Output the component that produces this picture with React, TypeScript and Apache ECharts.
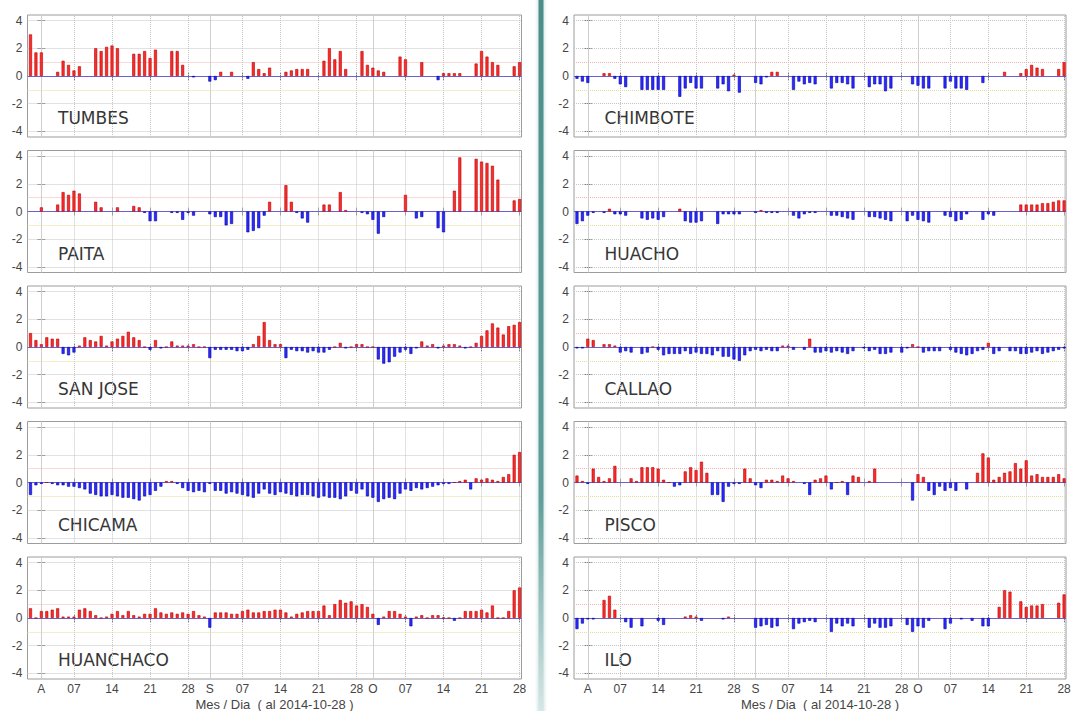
import React, { useEffect, useRef } from 'react';
import * as echarts from 'echarts';

// Daily anomalies (°C) from 30 Jul to 28 Oct 2014.
// Layout of each array: 30 Jul – 3 Aug, then 12 weeks Mon–Sun, then 27–28 Oct.
const FIRST_DAY = -2; // day index of 30 Jul, counted from 1 Aug 2014

const tumbes = [
  3.0, 1.7, 1.7, null, null,
  0.3, 1.1, 0.8, 0.4, 0.7, null, null,
  2.0, 1.8, 2.1, 2.2, 2.0, null, null,
  1.6, 1.6, 1.8, 1.3, 1.9, null, null,
  1.8, 1.8, 0.8, null, -0.1, null, null,
  -0.4, -0.3, 0.3, null, 0.3, null, null,
  -0.2, 1.0, 0.5, 0.2, 0.6, null, null,
  0.3, 0.4, 0.5, 0.5, 0.5, null, null,
  1.1, 2.0, 1.2, 1.8, 0.5, null, null,
  1.8, 0.8, 0.6, 0.4, 0.3, null, null,
  1.4, 1.2, null, null, 1.0, null, null,
  -0.3, 0.2, 0.2, 0.2, 0.2, null, null,
  0.9, 1.8, 1.4, 1.0, 0.8, null, null,
  0.7, 1.0,
];

const paita = [
  null, null, 0.3, null, null,
  0.5, 1.4, 1.2, 1.5, 1.3, null, null,
  0.7, 0.3, null, null, 0.3, null, null,
  0.4, 0.3, -0.1, -0.7, -0.7, null, null,
  -0.1, -0.1, -0.6, -0.1, -0.3, null, null,
  -0.2, -0.4, -0.4, -1.0, -0.9, null, null,
  -1.5, -1.4, -1.2, -0.3, 0.7, null, null,
  1.9, 0.7, -0.1, -0.5, -0.8, null, null,
  0.5, 0.5, null, 1.4, 0.1, null, null,
  -0.1, -0.2, -0.6, -1.6, -0.4, null, null,
  null, 1.2, null, -0.5, -0.4, null, null,
  -1.2, -1.5, null, 1.5, 3.9, null, null,
  3.8, 3.6, 3.5, 3.3, 2.3, null, null,
  0.8, 0.9,
];

const sanJose = [
  1.0, 0.5, 0.2, 0.7, 0.6,
  0.6, -0.5, -0.6, -0.4, 0.1, 0.7, 0.5,
  0.4, 0.8, 0.1, 0.4, 0.6, 0.8, 1.1,
  0.7, 0.5, 0.0, -0.2, 0.5, -0.1, 0.0,
  0.4, 0.1, 0.1, 0.1, 0.2, 0.0, 0.0,
  -0.8, -0.2, -0.2, -0.2, -0.2, -0.3, -0.3,
  -0.2, 0.2, 0.8, 1.8, 0.5, 0.2, 0.2,
  -0.8, -0.2, -0.3, -0.3, -0.4, -0.3, -0.4,
  -0.4, -0.2, 0.0, 0.3, -0.1, 0.0, 0.2,
  0.2, 0.0, 0.0, -0.9, -1.2, -1.1, -0.7,
  -0.4, -0.2, -0.5, -0.1, 0.4, 0.1, 0.2,
  -0.1, 0.1, 0.2, 0.2, 0.1, -0.1, 0.0,
  0.3, 0.8, 1.2, 1.7, 1.4, 0.9, 1.5,
  1.6, 1.8,
];

const chicama = [
  -0.9, -0.2, -0.1, 0.0, -0.1,
  -0.2, -0.2, -0.3, -0.3, -0.4, -0.5, -0.8,
  -0.9, -1.0, -1.0, -0.9, -1.0, -1.1, -1.1,
  -1.2, -1.3, -1.0, -0.9, -0.6, -0.3, 0.1,
  0.1, -0.1, -0.4, -0.6, -0.7, -0.6, -0.7,
  -0.1, -0.6, -0.6, -0.8, -0.7, -0.8, -0.9,
  -1.0, -1.1, -0.8, -0.5, -0.8, -0.9, -0.7,
  -0.8, -0.9, -1.0, -0.9, -0.9, -1.0, -1.1,
  -1.0, -1.1, -1.1, -1.2, -1.0, -0.6, -0.8,
  -0.5, -1.0, -1.1, -1.4, -1.2, -1.1, -1.2,
  -0.8, -0.5, -0.6, -0.4, -0.5, -0.4, -0.3,
  -0.2, -0.1, -0.1, 0.0, 0.1, 0.2, -0.5,
  0.3, 0.2, 0.3, 0.2, 0.1, 0.4, 0.6,
  2.0, 2.2,
];

const huanchaco = [
  0.7, 0.0, 0.5, 0.5, 0.6,
  0.7, 0.1, 0.1, 0.1, 0.6, 0.7, 0.5,
  0.2, 0.0, 0.1, 0.3, 0.5, 0.2, 0.5,
  0.2, 0.1, 0.3, 0.3, 0.7, 0.4, 0.3,
  0.4, 0.3, 0.4, 0.3, 0.5, 0.2, 0.1,
  -0.7, 0.4, 0.4, 0.4, 0.3, 0.3, 0.5,
  0.6, 0.4, 0.4, 0.5, 0.5, 0.6, 0.6,
  0.4, 0.1, 0.3, 0.4, 0.5, 0.5, 0.5,
  0.9, 0.2, 1.0, 1.3, 1.1, 1.2, 0.9,
  1.0, 0.8, 0.3, -0.5, 0.1, 0.5, 0.5,
  0.3, 0.1, -0.6, 0.1, 0.2, 0.0, 0.2,
  0.2, 0.0, 0.0, -0.2, 0.0, 0.5, 0.5,
  0.5, 0.6, 0.4, 0.9, 0.0, 0.0, 0.5,
  2.0, 2.2,
];

const chimbote = [
  -0.2, -0.4, -0.5, null, null,
  0.2, 0.2, -0.2, -0.6, -0.8, null, null,
  -1.0, -1.0, -1.0, -1.0, -1.0, null, null,
  -1.5, -0.9, -0.5, -0.9, -0.9, null, null,
  -0.9, -0.6, -1.1, 0.1, -1.2, null, null,
  -0.5, -0.6, -0.1, 0.3, 0.3, null, null,
  -1.0, -0.4, -0.6, -0.5, -0.6, null, null,
  -0.9, -0.5, -0.5, -0.6, -0.9, null, null,
  -0.8, -0.6, -0.6, -1.1, -0.9, null, null,
  null, -0.6, -0.7, -0.9, -0.9, null, null,
  -0.9, -0.4, -0.9, -0.9, -1.0, null, null,
  -0.5, null, null, null, 0.3, null, null,
  0.2, 0.5, 0.8, 0.6, 0.5, null, null,
  0.5, 1.0,
];

const huacho = [
  -0.9, -0.7, -0.3, -0.1, null,
  -0.1, 0.2, -0.2, -0.2, -0.3, null, null,
  -0.5, -0.6, -0.5, -0.6, -0.4, null, null,
  0.2, -0.7, -0.8, -0.8, -0.7, null, null,
  -0.9, -0.2, -0.2, -0.2, -0.2, null, null,
  -0.1, 0.1, -0.1, -0.1, -0.1, null, null,
  -0.3, -0.5, -0.2, -0.1, -0.1, null, null,
  -0.3, -0.3, -0.4, -0.5, -0.6, null, null,
  -0.4, -0.4, -0.5, -0.6, -0.7, null, null,
  -0.7, -0.3, -0.6, -0.7, -0.8, null, null,
  -0.3, -0.4, -0.7, -0.6, -0.2, null, null,
  -0.6, -0.2, -0.3, null, null, null, null,
  0.5, 0.5, 0.5, 0.5, 0.6, 0.6, 0.7,
  0.8, 0.8,
];

const callao = [
  -0.1, -0.1, 0.6, 0.5, null,
  0.2, 0.2, 0.1, -0.4, -0.3, -0.4, null,
  -0.5, -0.4, 0.0, -0.2, -0.6, -0.5, -0.5,
  -0.5, -0.3, -0.5, -0.4, -0.5, -0.5, -0.6,
  -0.3, -0.7, -0.7, -0.9, -1.0, -0.6, -0.3,
  -0.2, -0.3, -0.2, -0.3, -0.3, 0.1, 0.1,
  -0.2, null, -0.2, 0.6, -0.4, -0.4, -0.3,
  -0.4, -0.3, -0.4, -0.5, -0.3, null, -0.1,
  -0.3, -0.2, -0.5, -0.5, -0.4, null, -0.4,
  -0.1, 0.2, 0.0, -0.4, -0.3, -0.3, -0.3,
  null, -0.2, -0.4, -0.5, -0.6, -0.5, -0.3,
  -0.2, 0.3, -0.5, -0.3, null, -0.3, -0.3,
  -0.5, -0.5, -0.4, -0.3, -0.5, -0.4, -0.3,
  -0.2, -0.1,
];

const pisco = [
  0.5, 0.1, -0.1, 1.0, 0.4,
  0.1, 0.3, 1.2, null, null, 0.3, 0.1,
  1.1, 1.1, 1.1, 1.0, 0.2, 0.0, -0.3,
  -0.2, 0.8, 1.1, 0.9, 1.5, 0.7, -0.9,
  -0.9, -1.4, -0.3, -0.1, -0.1, 1.0, 0.3,
  -0.2, -0.4, 0.2, 0.2, 0.1, 0.5, 0.3,
  0.1, null, -0.1, -0.9, 0.2, 0.3, 0.5,
  -0.5, 0.0, 0.1, -0.9, 0.5, 0.4, null,
  0.1, 1.0, null, null, null, null, null,
  null, -1.3, 0.6, 0.4, -0.6, -0.9, -0.3,
  -0.6, -0.4, -0.6, null, -0.5, null, 0.7,
  2.1, 1.8, 0.2, 0.4, 0.7, 0.8, 1.4,
  1.0, 1.6, 0.5, 0.6, 0.4, 0.4, 0.4,
  0.6, 0.3,
];

const ilo = [
  -0.8, -0.4, -0.1, -0.1, null,
  1.3, 1.6, 0.6, null, -0.3, -0.7, null,
  -0.6, null, null, -0.2, -0.5, null, null,
  null, 0.1, 0.2, 0.1, -0.2, null, null,
  null, -0.1, 0.1, null, null, null, null,
  -0.7, -0.6, -0.5, -0.7, -0.6, null, null,
  -0.8, -0.4, -0.3, -0.2, -0.3, null, null,
  -1.0, -0.4, -0.6, -0.4, -0.6, null, null,
  -0.7, -0.4, -0.7, -0.7, -0.6, null, null,
  -0.5, -1.0, -0.6, -0.7, -0.2, null, null,
  -0.8, -0.4, null, -0.1, null, -0.2, null,
  -0.6, -0.6, null, 0.8, 2.0, 1.9, null,
  1.2, 0.8, 0.9, 0.9, 1.0, null, null,
  1.1, 1.7,
];

const leftStations = [
  { name: 'TUMBES', values: tumbes },
  { name: 'PAITA', values: paita },
  { name: 'SAN JOSE', values: sanJose },
  { name: 'CHICAMA', values: chicama },
  { name: 'HUANCHACO', values: huanchaco },
];
const rightStations = [
  { name: 'CHIMBOTE', values: chimbote },
  { name: 'HUACHO', values: huacho },
  { name: 'CALLAO', values: callao },
  { name: 'PISCO', values: pisco },
  { name: 'ILO', values: ilo },
];

// x ticks: day index (from 1 Aug 2014) and its label
const tickDays = [0, 6, 13, 20, 27, 31, 37, 44, 51, 58, 61, 67, 74, 81, 88];
const tickLabels = ['A', '07', '14', '21', '28', 'S', '07', '14', '21', '28', 'O', '07', '14', '21', '28'];
const monthStarts = [0, 31, 61];
const yTicks = [-4, -2, 0, 2, 4];
const xTitle = 'Mes / Dia  ( al 2014-10-28 )';

const X_MIN = -2.55;
const X_MAX = 88.35;
const Y_LIM = 4.4;
const ROW_TOP = 15;
const ROW_STEP = 135.5;
const ROW_H = 122;
const COLS = [
  { left: 27.5, width: 494 },
  { left: 574, width: 492 },
];

const RED = '#ff2b2b';
const RED_EDGE = '#b30000';
const BLUE = '#2b2bff';
const BLUE_EDGE = '#0000a6';
const SANS = '"Liberation Sans", Arial, sans-serif';

function buildOption() {
  const grid: any[] = [];
  const xAxis: any[] = [];
  const yAxis: any[] = [];
  const series: any[] = [];
  const graphic: any[] = [];

  const columns = [leftStations, rightStations];
  columns.forEach((stations, c) => {
    const col = COLS[c];
    stations.forEach((st, r) => {
      const gi = grid.length;
      const top = ROW_TOP + ROW_STEP * r;
      const isBottom = r === stations.length - 1;
      grid.push({
        left: col.left,
        top,
        width: col.width,
        height: ROW_H,
        show: true,
        borderColor: '#9c9c9c',
        borderWidth: 1,
        backgroundColor: '#ffffff',
      });
      const tickStyle = { color: '#7a7a7a', width: 1 };
      xAxis.push({
        gridIndex: gi,
        type: 'value',
        min: X_MIN,
        max: X_MAX,
        position: 'bottom',
        axisLine: { show: false },
        axisTick: { show: true, inside: true, length: 4, customValues: tickDays, lineStyle: tickStyle },
        axisLabel: {
          show: isBottom,
          customValues: tickDays,
          formatter: (v: number) => {
            const i = tickDays.indexOf(Math.round(v));
            return i >= 0 ? tickLabels[i] : '';
          },
          fontSize: 12,
          fontFamily: SANS,
          color: '#454545',
          margin: 4,
        },
        splitLine: { show: false },
      });
      xAxis.push({
        gridIndex: gi,
        type: 'value',
        min: X_MIN,
        max: X_MAX,
        position: 'top',
        axisLine: { show: false },
        axisTick: { show: true, inside: true, length: 4, customValues: tickDays, lineStyle: tickStyle },
        axisLabel: { show: false },
        splitLine: { show: false },
      });
      yAxis.push({
        gridIndex: gi,
        type: 'value',
        min: -Y_LIM,
        max: Y_LIM,
        position: 'left',
        axisLine: { show: false },
        axisTick: { show: true, inside: true, length: 4, customValues: yTicks, lineStyle: tickStyle },
        axisLabel: {
          customValues: yTicks,
          fontSize: 12,
          fontFamily: SANS,
          color: '#454545',
          margin: 5,
        },
        splitLine: { show: false },
      });
      yAxis.push({
        gridIndex: gi,
        type: 'value',
        min: -Y_LIM,
        max: Y_LIM,
        position: 'right',
        axisLine: { show: false },
        axisTick: { show: true, inside: true, length: 4, customValues: yTicks, lineStyle: tickStyle },
        axisLabel: { show: false },
        splitLine: { show: false },
      });

      const data: any[] = [];
      st.values.forEach((v, i) => {
        if (v === null || v === undefined) return;
        const pos = v >= 0;
        data.push({
          value: [FIRST_DAY + i, v],
          itemStyle: {
            color: pos ? RED : BLUE,
            borderColor: pos ? RED_EDGE : BLUE_EDGE,
            borderWidth: 0.6,
          },
        });
      });

      const dotted = { type: 'dotted', color: '#c4c4c4', width: 1 };
      const lines: any[] = [];
      tickDays.forEach((d) => {
        lines.push({
          xAxis: d,
          lineStyle: monthStarts.includes(d)
            ? { type: 'solid', color: '#cfcfcf', width: 1 }
            : dotted,
        });
      });
      [-4, -2, 2, 4].forEach((y) => lines.push({ yAxis: y, lineStyle: dotted }));
      lines.push({ yAxis: 1, lineStyle: { type: 'dotted', color: '#f0b4b4', width: 1 } });
      lines.push({ yAxis: -1, lineStyle: { type: 'dotted', color: '#e4dc9a', width: 1 } });
      lines.push({ yAxis: 0, lineStyle: { type: 'solid', color: '#6c5fd0', width: 1 } });

      series.push({
        type: 'bar',
        name: st.name,
        xAxisIndex: gi * 2,
        yAxisIndex: gi * 2,
        barWidth: 3,
        z: 3,
        data,
        markLine: {
          silent: true,
          z: 1,
          symbol: ['none', 'none'],
          label: { show: false },
          data: lines,
        },
      });

      graphic.push({
        type: 'text',
        x: col.left + 30.5,
        y: top + 103,
        style: {
          text: st.name,
          fontSize: 17,
          fontFamily: '"DejaVu Sans", Verdana, sans-serif',
          fill: '#363636',
          align: 'left',
          verticalAlign: 'middle',
        },
      });

      if (isBottom) {
        graphic.push({
          type: 'text',
          x: col.left + col.width / 2,
          y: top + ROW_H + 25,
          style: {
            text: xTitle,
            fontSize: 13,
            fontFamily: SANS,
            fill: '#454545',
            align: 'center',
            verticalAlign: 'middle',
          },
        });
      }
    });
  });

  // teal divider between the two columns
  graphic.push({
    type: 'rect',
    shape: { x: 535, y: 0, width: 12, height: 711 },
    style: {
      fill: new echarts.graphic.LinearGradient(0, 0, 1, 0, [
        { offset: 0, color: 'rgba(120,175,170,0)' },
        { offset: 0.5, color: 'rgba(120,175,170,0.4)' },
        { offset: 1, color: 'rgba(120,175,170,0)' },
      ]),
    },
    silent: true,
  });
  graphic.push({
    type: 'rect',
    shape: { x: 538.5, y: 0, width: 5, height: 711 },
    style: {
      fill: new echarts.graphic.LinearGradient(0, 0, 0, 1, [
        { offset: 0, color: '#4b8e89' },
        { offset: 0.7, color: '#5f9e99' },
        { offset: 1, color: '#d6e7e5' },
      ]),
    },
    silent: true,
  });

  return {
    animation: false,
    backgroundColor: '#ffffff',
    grid,
    xAxis,
    yAxis,
    series,
    graphic,
  };
}

export default function App() {
  const ref = useRef<HTMLDivElement>(null);
  useEffect(() => {
    if (!ref.current) return;
    const chart = echarts.init(ref.current, undefined, { renderer: 'svg' });
    chart.setOption(buildOption() as any);
    return () => chart.dispose();
  }, []);
  return (
    <div
      ref={ref}
      style={{ position: 'absolute', left: 0, top: 0, width: 1077, height: 711 }}
    />
  );
}
